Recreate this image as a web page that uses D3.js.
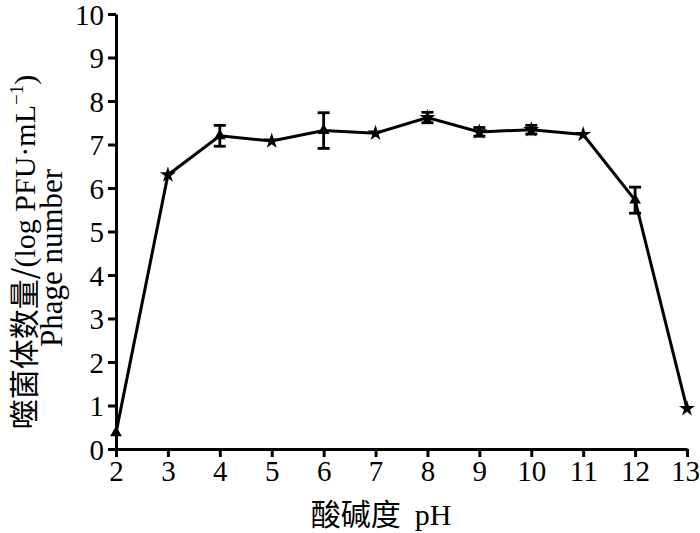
<!DOCTYPE html>
<html><head><meta charset="utf-8">
<script src="https://cdn.jsdelivr.net/npm/d3@7"></script>
<style>body{margin:0;background:#fff}svg{display:block}</style>
</head><body>
<svg id="c" width="700" height="533"></svg>
<script>
const phValues = [2,3,4,5,6,7,8,9,10,11,12,13];
const phageValues = [0.37,6.3,7.2,7.08,7.32,7.26,7.62,7.29,7.34,7.23,5.72,0.93];
const errorValues = [0.05,0.08,0.24,0.06,0.41,0.08,0.12,0.1,0.1,0.06,0.3,0.08];
const markerTypes = ["tri","star","tri","star","tri","star","star","star","star","star","tri","star"];
const xTicks = [2,3,4,5,6,7,8,9,10,11,12,13];
const yTicks = [0,1,2,3,4,5,6,7,8,9,10];

const svg = d3.select("#c");
const x = d3.scaleLinear().domain([2,13]).range([116,687]);
const y = d3.scaleLinear().domain([0,10]).range([449,14]);
const font = "'Liberation Serif','Times New Roman',serif";

const xAxis = svg.append("g").attr("transform","translate(0,449)")
  .call(d3.axisBottom(x).tickValues(xTicks).tickSize(8).tickSizeOuter(0).tickPadding(3).tickFormat(d3.format("d")));
const yAxis = svg.append("g").attr("transform","translate(116,0)")
  .call(d3.axisLeft(y).tickValues(yTicks).tickSize(8).tickSizeOuter(0).tickPadding(4).tickFormat(d3.format("d")));
[xAxis,yAxis].forEach(a=>{
  a.select(".domain").attr("stroke","#000").attr("stroke-width",3);
  a.selectAll(".tick line").attr("stroke","#000").attr("stroke-width",3);
  a.selectAll(".tick text").attr("font-family",font).attr("font-size",29).attr("fill","#000");
});
yAxis.selectAll(".tick text").attr("dy","0.36em");
xAxis.selectAll(".tick text").filter(d=>d===13).attr("dx",-2);

const data = phValues.map((p,i)=>({p,v:phageValues[i],e:errorValues[i],m:markerTypes[i]}));

svg.append("path").datum(data)
  .attr("fill","none").attr("stroke","#000").attr("stroke-width",3)
  .attr("d", d3.line().x(d=>x(d.p)).y(d=>y(d.v)));

const eb = svg.append("g").attr("stroke","#000").attr("stroke-width",2.8);
data.forEach(d=>{
  const x0=x(d.p), y1=y(d.v+d.e), y2=y(d.v-d.e);
  eb.append("line").attr("x1",x0).attr("x2",x0).attr("y1",y1).attr("y2",y2);
  if (d.e>0.09){
    eb.append("line").attr("x1",x0-6).attr("x2",x0+6).attr("y1",y1).attr("y2",y1);
    eb.append("line").attr("x1",x0-6).attr("x2",x0+6).attr("y1",y2).attr("y2",y2);
  }
});

const star = d3.symbol().type(d3.symbolStar).size(80);
const tri = d3.symbol().type(d3.symbolTriangle).size(60);
svg.append("g").selectAll("path").data(data).join("path")
  .attr("transform",d=>`translate(${x(d.p)},${y(d.v)})`)
  .attr("d",d=>d.m==="tri"?tri():star())
  .attr("fill","#000");

svg.append("text").attr("x",381).attr("y",525).attr("text-anchor","middle")
  .attr("font-size",30).attr("fill","#000")
  .html(`<tspan font-family="'Noto Sans CJK SC'">酸碱度</tspan><tspan font-family="${font}" dx="14">pH</tspan>`);

const yl = svg.append("text").attr("transform","translate(35,252) rotate(-90)")
  .attr("text-anchor","middle").attr("font-size",30).attr("fill","#000");
yl.append("tspan").attr("font-family","'Noto Sans CJK SC'").text("噬菌体数量/");
yl.append("tspan").attr("font-family",font).text("(log PFU·mL");
yl.append("tspan").attr("font-family",font).attr("font-size",19).attr("dy",-12).text("−1");
yl.append("tspan").attr("font-family",font).attr("dy",12).text(")");

svg.append("text").attr("transform","translate(62,258) rotate(-90)")
  .attr("text-anchor","middle").attr("font-size",31).attr("font-family",font).attr("fill","#000")
  .text("Phage number");
</script>
</body></html>
